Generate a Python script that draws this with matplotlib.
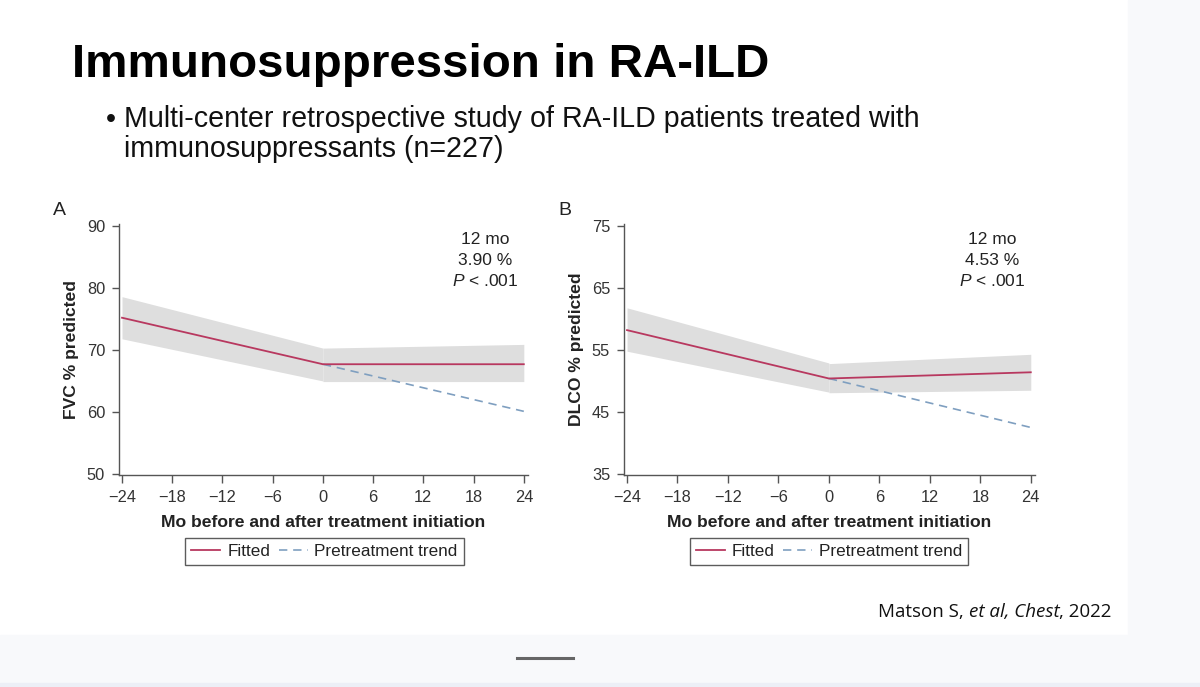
import matplotlib
matplotlib.use("Agg")
import matplotlib.pyplot as plt
from matplotlib.patches import Rectangle
from matplotlib.lines import Line2D

plt.rcParams['font.family'] = ['Liberation Sans', 'DejaVu Sans']
plt.rcParams['mathtext.fontset'] = 'custom'
plt.rcParams['mathtext.rm'] = 'Liberation Sans'
plt.rcParams['mathtext.it'] = 'Liberation Sans:italic'

# ---------------- data ----------------
pre_months = [-24, 0]
post_months = [0, 24]
x_ticks = [-24, -18, -12, -6, 0, 6, 12, 18, 24]

fvc_pre_fit = [75.2, 67.7]
fvc_pre_lo = [71.8, 65.0]
fvc_pre_hi = [78.6, 70.3]
fvc_post_fit = [67.7, 67.7]
fvc_post_lo = [64.9, 64.9]
fvc_post_hi = [70.3, 70.9]
fvc_trend = [67.7, 60.1]
fvc_yticks = [50, 60, 70, 80, 90]

dlco_pre_fit = [58.2, 50.4]
dlco_pre_lo = [54.8, 48.2]
dlco_pre_hi = [61.8, 52.9]
dlco_post_fit = [50.4, 51.4]
dlco_post_lo = [48.1, 48.5]
dlco_post_hi = [52.8, 54.3]
dlco_trend = [50.4, 42.5]
dlco_yticks = [35, 45, 55, 65, 75]

W, H = 1200, 687
fig = plt.figure(figsize=(W / 100, H / 100), dpi=100)
fig.patch.set_facecolor('white')


def fx(px):
    return px / W


def fy(py):
    return 1 - py / H


# background strips
fig.add_artist(Rectangle((fx(1128), 0), 1 - fx(1128), 1, transform=fig.transFigure,
                         color='#f8f9fb', zorder=0))
fig.add_artist(Rectangle((0, 0), 1, fy(635), transform=fig.transFigure,
                         color='#f8f9fb', zorder=0))
fig.add_artist(Rectangle((0, 0), 1, fy(683), transform=fig.transFigure,
                         color='#eceff6', zorder=0))
fig.add_artist(Line2D([fx(517), fx(573)], [fy(658), fy(658)], transform=fig.transFigure,
                      color='#666666', lw=2.2))

# title and bullet
fig.text(fx(72), fy(77), "Immunosuppression in RA-ILD", fontsize=34.2, fontweight='bold',
         ha='left', va='baseline', color='black')
fig.text(fx(106), fy(127), "\u2022", fontsize=20.5, ha='left', va='baseline', color='#111111')
fig.text(fx(124), fy(127), "Multi-center retrospective study of RA-ILD patients treated with",
         fontsize=20.6, ha='left', va='baseline', color='#111111')
fig.text(fx(124), fy(157), "immunosuppressants (n=227)",
         fontsize=20.6, ha='left', va='baseline', color='#111111')

# citation with mixed styles, placed piece by piece
cite_parts = [("Matson S, ", 'normal'), ("et al, Chest", 'italic'), (", 2022", 'normal')]
renderer = fig.canvas.get_renderer()
cx = 878
for txt, style in cite_parts:
    t = fig.text(fx(cx), fy(612), txt, fontsize=13.5, style=style, ha='left', va='center',
                 color='#111111', family=['Open Sans', 'DejaVu Sans'])
    bb = t.get_window_extent(renderer=renderer)
    cx += bb.width

fit_color = '#b8385f'
trend_color = '#7f9fc0'
band_color = '#dedede'
axis_color = '#555555'


def panel(left_px, right_px, ylim, yticks, pre_fit, pre_lo, pre_hi, post_fit, post_lo,
          post_hi, trend, ylabel, letter, stats, ann_x, legend_cx):
    top_px, bot_px = 223.5, 475.2
    ax = fig.add_axes([fx(left_px), fy(bot_px), (right_px - left_px) / W,
                       (bot_px - top_px) / H])
    ax.set_facecolor('none')
    ax.fill_between(pre_months, pre_lo, pre_hi, color=band_color, lw=0, zorder=1)
    ax.fill_between(post_months, post_lo, post_hi, color=band_color, lw=0, zorder=1)
    ax.plot(post_months, trend, color=trend_color, lw=1.2, ls=(0, (5, 3.5)), zorder=2,
            label='Pretreatment trend')
    ax.plot(pre_months + post_months[1:], pre_fit + post_fit[1:], color=fit_color, lw=1.3,
            zorder=3, label='Fitted')
    ax.set_xlim(-24.36, 24.5)
    ax.set_ylim(*ylim)
    ax.set_xticks(x_ticks)
    ax.set_xticklabels([("\u2212%d" % -t) if t < 0 else str(t) for t in x_ticks])
    ax.set_yticks(yticks)
    for s in ['top', 'right']:
        ax.spines[s].set_visible(False)
    for s in ['left', 'bottom']:
        ax.spines[s].set_color(axis_color)
        ax.spines[s].set_linewidth(1.0)
    ax.tick_params(direction='out', width=1.0, color=axis_color,
                   labelsize=11.8, labelcolor='#333333')
    ax.tick_params(axis='x', length=6, pad=5)
    ax.tick_params(axis='y', length=5, pad=5)
    ax.set_xlabel("Mo before and after treatment initiation", fontsize=12.6,
                  fontweight='bold', color='#222222')
    ax.xaxis.set_label_coords(0.5, -0.186)
    ax.xaxis.label.set_verticalalignment('center')
    ax.set_ylabel(ylabel, fontsize=12.6, fontweight='bold', color='#222222')
    ax.yaxis.set_label_coords(-0.115, 0.5)
    ax.yaxis.label.set_verticalalignment('center')

    fig.text(fx(left_px - 66), fy(210), letter, fontsize=14, ha='left', va='center',
             color='#222222')
    for txt, ypx in zip(stats, [239, 260, 281]):
        fig.text(fx(ann_x), fy(ypx), txt, fontsize=12.5, ha='center', va='center',
                 color='#222222')

    handles, labels = ax.get_legend_handles_labels()
    order = [labels.index('Fitted'), labels.index('Pretreatment trend')]
    leg = fig.legend([handles[i] for i in order], [labels[i] for i in order],
                     loc='center', bbox_to_anchor=(fx(legend_cx), fy(551.5)), ncol=2,
                     fontsize=12.3, frameon=True, fancybox=False, handlelength=1.7,
                     handletextpad=0.4, columnspacing=0.5, borderpad=0.35,
                     labelcolor='#222222')
    leg.get_frame().set_edgecolor('#333333')
    leg.get_frame().set_linewidth(1.0)
    return ax


panel(119, 528, (49.8, 90.4), fvc_yticks, fvc_pre_fit, fvc_pre_lo, fvc_pre_hi,
      fvc_post_fit, fvc_post_lo, fvc_post_hi, fvc_trend, "FVC % predicted", "A",
      ["12 mo", "3.90 %", r"$P$ < .001"], 485, 324.5)
panel(624, 1035, (34.8, 75.4), dlco_yticks, dlco_pre_fit, dlco_pre_lo, dlco_pre_hi,
      dlco_post_fit, dlco_post_lo, dlco_post_hi, dlco_trend, "DLCO % predicted", "B",
      ["12 mo", "4.53 %", r"$P$ < .001"], 992, 829)

fig.savefig("out.png", dpi=100, facecolor=fig.get_facecolor())
